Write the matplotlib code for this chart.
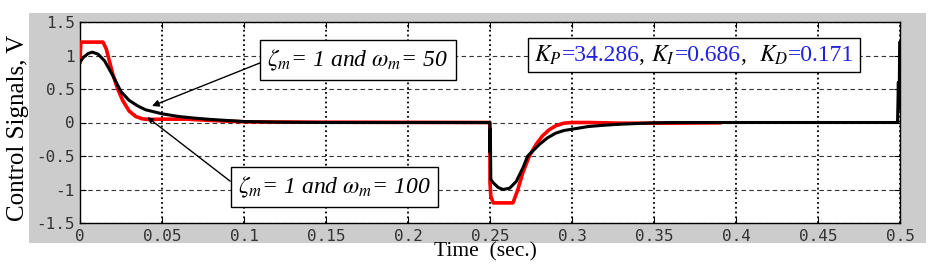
import matplotlib
matplotlib.use('Agg')
import matplotlib.pyplot as plt
from matplotlib.patches import Rectangle
from matplotlib.offsetbox import TextArea, HPacker, AnchoredOffsetbox

plt.rcParams['mathtext.fontset'] = 'stix'
plt.rcParams['axes.unicode_minus'] = False

# control signal, zeta_m = 1 and omega_m = 50 (black)
t_50 = [0, 0.002, 0.005, 0.0075, 0.011, 0.015, 0.02, 0.025, 0.03, 0.035, 0.04, 0.045,
        0.05, 0.06, 0.07, 0.08, 0.09, 0.1, 0.12, 0.15, 0.2, 0.2499, 0.25, 0.2502, 0.2505,
        0.252, 0.255, 0.258, 0.262, 0.266, 0.27, 0.273, 0.28, 0.285, 0.29, 0.295, 0.3,
        0.31, 0.32, 0.33, 0.34, 0.35, 0.36, 0.4, 0.45, 0.4985, 0.499, 0.4993, 0.4996,
        0.4998, 0.5]
u_50 = [0.9, 0.97, 1.03, 1.05, 1.02, 0.92, 0.7, 0.46, 0.33, 0.25, 0.19, 0.16,
        0.13, 0.09, 0.065, 0.045, 0.03, 0.015, 0.005, 0.0, 0.0, 0.0, -0.45, -0.1, -0.85,
        -0.9, -0.97, -1.0, -0.98, -0.88, -0.68, -0.5, -0.33, -0.23, -0.16, -0.12, -0.1,
        -0.06, -0.04, -0.025, -0.015, -0.005, 0.0, 0.0, 0.0, 0.0, 0.6, 0.2, 0.6,
        1.2, 1.2]

# control signal, zeta_m = 1 and omega_m = 100 (red)
t_100 = [0, 0.0005, 0.002, 0.014, 0.016, 0.02, 0.023, 0.026, 0.03, 0.034, 0.038, 0.042,
         0.05, 0.065, 0.08, 0.1, 0.14, 0.2499, 0.25, 0.2505, 0.252, 0.264, 0.267, 0.27,
         0.274, 0.278, 0.282, 0.286, 0.29, 0.295, 0.3, 0.31, 0.33, 0.36, 0.39]
u_100 = [0.9, 1.2, 1.2, 1.2, 1.1, 0.72, 0.5, 0.33, 0.17, 0.09, 0.055, 0.045,
         0.05, 0.05, 0.03, 0.01, 0.005, 0.0, -0.9, -1.1, -1.2, -1.2, -1.0, -0.75,
         -0.5, -0.33, -0.2, -0.11, -0.05, -0.01, 0.0, 0.0, -0.01, -0.01, -0.005]

x_ticks = [0, 0.05, 0.1, 0.15, 0.2, 0.25, 0.3, 0.35, 0.4, 0.45, 0.5]
x_labels = ['0', '0.05', '0.1', '0.15', '0.2', '0.25', '0.3', '0.35', '0.4', '0.45', '0.5']
y_ticks = [-1.5, -1, -0.5, 0, 0.5, 1, 1.5]
y_labels = ['-1.5', '-1', '-0.5', '0', '0.5', '1', '1.5']

fig = plt.figure(figsize=(9.41, 2.64), dpi=100, facecolor='white')
fig.add_artist(Rectangle((29 / 941, 1 - 243 / 264), (926 - 29) / 941, 230 / 264,
                         transform=fig.transFigure, facecolor='#cccccc',
                         edgecolor='none', zorder=-1))
ax = fig.add_axes([80 / 941, 1 - 223 / 264, 820 / 941, 201 / 264])

ax.plot(t_100, u_100, color='red', lw=2.6, zorder=3)
ax.plot(t_50, u_50, color='black', lw=2.2, zorder=4)

ax.set_xlim(0, 0.5)
ax.set_ylim(-1.5, 1.5)
ax.set_xticks(x_ticks)
ax.set_xticklabels(x_labels)
ax.set_yticks(y_ticks)
ax.set_yticklabels(y_labels)
ax.tick_params(direction='in', top=True, right=True, length=4, width=0.8,
               labelsize=11.5, labelcolor='#333333', pad=4)
for lab in ax.get_xticklabels() + ax.get_yticklabels():
    lab.set_family('DejaVu Sans Mono')
ax.xaxis.grid(True, linestyle=':', color='black', lw=1.3)
ax.yaxis.grid(True, linestyle=(0, (4, 3)), color='#333333', lw=0.8)
ax.set_axisbelow(True)
for s in ax.spines.values():
    s.set_linewidth(1.0)

fig.text(18 / 941, 1 - 128 / 264, 'Control Signals, V', rotation=90, ha='center',
         va='center', family='Liberation Serif', fontsize=18)
fig.text(485 / 941, 1 - 252 / 264, 'Time  (sec.)', ha='center', va='center',
         family='Liberation Serif', fontsize=15.5)

lab_font = dict(family='Liberation Serif', style='italic', fontsize=17)
box = dict(boxstyle='square,pad=0.3', facecolor='white', edgecolor='black', lw=1)
ax.annotate(r'$\zeta_m$= 1 and $\omega_m$= 50', xy=(0.0439, 0.246),
            xytext=(0.1695, 0.933), ha='center', va='center', bbox=box,
            arrowprops=dict(arrowstyle='-|>', color='black', lw=1, relpos=(0, 0.5),
                            shrinkA=0, shrinkB=0, mutation_scale=10),
            zorder=6, **lab_font)
ax.annotate(r'$\zeta_m$= 1 and $\omega_m$= 100', xy=(0.041, 0.08),
            xytext=(0.155, -0.963), ha='center', va='center', bbox=box,
            arrowprops=dict(arrowstyle='-|>', color='black', lw=1, relpos=(0, 0.5),
                            shrinkA=0, shrinkB=0, mutation_scale=8),
            zorder=6, **lab_font)

# gains box with black symbols and blue numbers
blue = '#2020e0'
parts = [(r'$K_P$', 'black'), ('=34.286', blue), (', ', 'black'),
         (r'$K_I$', 'black'), ('=0.686', blue), (',  ', 'black'),
         (r'$K_D$', 'black'), ('=0.171', blue)]
areas = [TextArea(s, textprops=dict(color=c, family='Liberation Serif', fontsize=17))
         for s, c in parts]
pack = HPacker(children=areas, align='baseline', pad=0, sep=0)
gbox = AnchoredOffsetbox(loc='center', child=pack, pad=0.4, borderpad=0,
                         frameon=True, bbox_to_anchor=(0.3744, 1.007),
                         bbox_transform=ax.transData)
gbox.patch.set_edgecolor('black')
gbox.patch.set_linewidth(1)
gbox.patch.set_boxstyle('square', pad=0)
gbox.set_zorder(6)
ax.add_artist(gbox)

fig.savefig('out.png', dpi=100, facecolor='white')
